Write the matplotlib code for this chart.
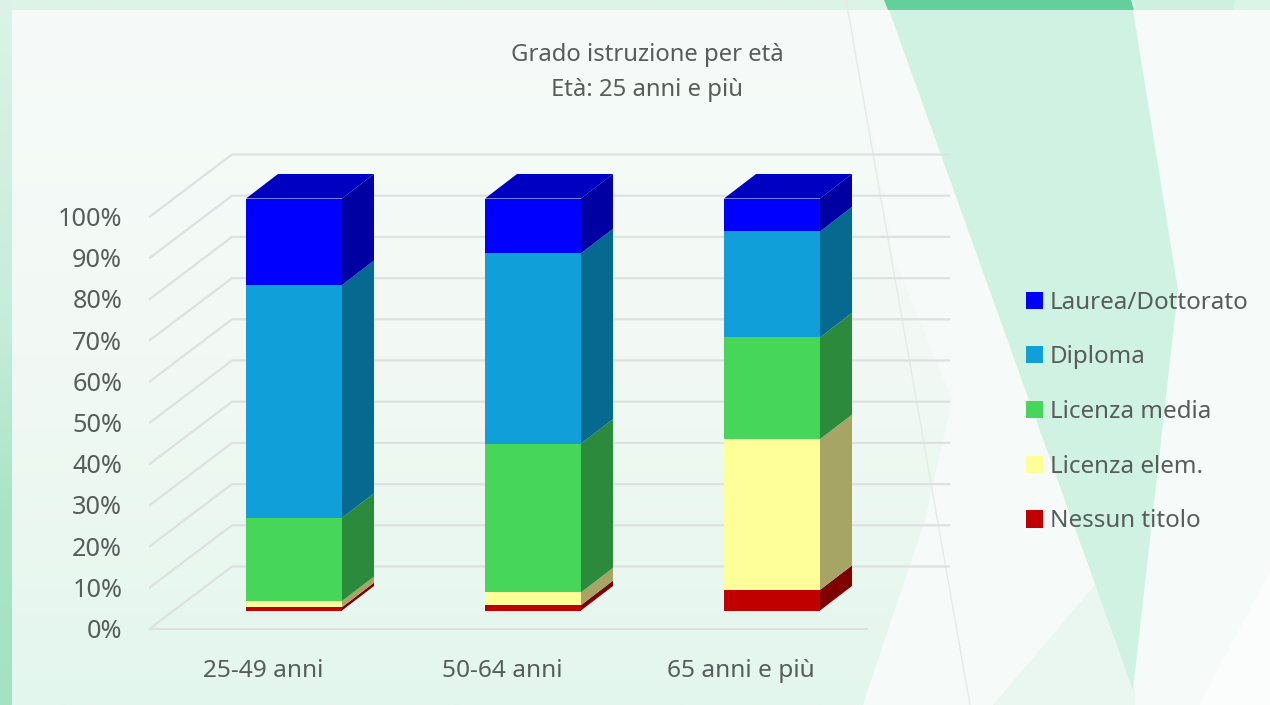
import numpy as np
import matplotlib
matplotlib.use("Agg")
import matplotlib.pyplot as plt
from matplotlib.patches import Patch, Polygon
from matplotlib.colors import LinearSegmentedColormap

categories = ["25-49 anni", "50-64 anni", "65 anni e più"]
nessun = [0.8, 1.3, 5.0]
elem = [1.5, 3.1, 36.6]
media = [20.2, 36.1, 24.7]
diploma = [56.5, 46.2, 25.7]
laurea = [21.0, 13.3, 8.0]
series_names = ["Nessun titolo", "Licenza elem.", "Licenza media", "Diploma", "Laurea/Dottorato"]
front_colors = ["#c00000", "#ffff99", "#46d75a", "#109fd8", "#0000ff"]
side_colors = ["#800000", "#a6a566", "#2c8a3c", "#066a90", "#0000a2"]
top_color = "#0000c2"
ticks = list(range(0, 101, 10))

W, H = 1270, 705
plt.rcParams['font.family'] = ['Noto Sans', 'DejaVu Sans']
fig = plt.figure(figsize=(W / 100, H / 100), dpi=100, facecolor="#dcf3e8")

# Slide background
bg = fig.add_axes([0, 0, 1, 1], zorder=0)
bg.axis("off")
edge_map = LinearSegmentedColormap.from_list(
    "edge", [(0, "#dcf3e8"), (0.45, "#c6eddb"), (0.72, "#aae4c8"), (1, "#a5e2c5")])
bg.imshow(np.linspace(0, 1, 256)[:, None], cmap=edge_map, extent=(0, 12, H, 0), aspect="auto", zorder=0.5)
top_strip = Polygon([(12, 0), (W, 0), (W, 10), (12, 10)], fc="#dcf3e8", ec="none", zorder=0.5)
bg.add_patch(top_strip)
cmap = LinearSegmentedColormap.from_list("panel", ["#f6fbf9", "#f2f9f4", "#e3f6ed"])
bg.imshow(np.linspace(0, 1, 256)[:, None], cmap=cmap, extent=(12, W, H, 10), aspect="auto", zorder=1)
bg.set_xlim(0, W); bg.set_ylim(H, 0)
decor = [
    ([(850, 10), (W, 10), (W, H), (863, H), (925, 520), (952, 400), (895, 260)], "#f6fbf9", 2),
    ([(993, H), (1095, 585), (1135, 690), (1135, H)], "#e9f7f0", 2.3),
    ([(1135, H), (1135, 690), (1178, 290), (1133, 10), (1230, 10), (1205, 300), (1225, 540), (1200, 610)], "#f6fbf9", 2.4),
    ([(1200, H), (1270, 570), (1270, H)], "#fafdfc", 2.4),
    ([(889, 10), (1133, 10), (1178, 290), (1133, 690)], "#d0f2e3", 2.5),
    ([(884, 0), (1131, 0), (1134, 10), (888, 10)], "#62cf9c", 2.6),
    ([(1134, 0), (1235, 0), (1233, 10), (1136, 10)], "#cdf0e1", 2.6),
]
for pts, col, z in decor:
    bg.add_patch(Polygon(pts, fc=col, ec="none", zorder=z))
bg.plot([846, 970], [0, 705], color="#e6ebe9", lw=1.0, zorder=2.7)

# Chart axes: the front plane of the pseudo 3D box
px_left, px_right, px_bottom, px_top = 150, 867, 628.5, 216.5
ax = fig.add_axes([px_left / W, 1 - px_bottom / H, (px_right - px_left) / W, (px_bottom - px_top) / H],
                  zorder=2, facecolor="none")
x = np.arange(len(categories))
ax.set_xlim(-0.4728, 2.5272)
ax.set_ylim(0, 100)
ux = (px_right - px_left) / 3.0
uy = (px_bottom - px_top) / 100.0

# Depth and bar placement, converted from pixels to axis units
wall_dx, wall_dy = 82 / ux, 62 / uy
bar_dx, bar_dy = 32 / ux, 24.5 / uy
bar_shift_x, bar_shift_y = 31 / ux, 18 / uy
bar_w = 96 / ux
grid_col = "#dde1e1"

for t in ticks:
    xs = [-0.4728, -0.4728 + wall_dx, 2.5272 + wall_dx]
    ys = [t, t + wall_dy, t + wall_dy]
    ax.plot(xs, ys, color=grid_col, lw=1.6, clip_on=False, zorder=1, solid_joinstyle="miter")
ax.spines[["top", "left", "right"]].set_visible(False)
ax.spines["bottom"].set_color(grid_col)
ax.spines["bottom"].set_linewidth(1.6)

centers = x + bar_shift_x
bottom = np.full(len(categories), bar_shift_y)
all_series = [nessun, elem, media, diploma, laurea]
handles = []
for vals, name, fc, sc in zip(all_series, series_names, front_colors, side_colors):
    vals = np.array(vals)
    ax.bar(centers, vals, bar_w, bottom=bottom, color=fc, zorder=3, clip_on=False)
    for cx, b, v in zip(centers, bottom, vals):
        xr = cx + bar_w / 2
        ax.fill([xr, xr + bar_dx, xr + bar_dx, xr], [b, b + bar_dy, b + v + bar_dy, b + v],
                color=sc, lw=0, zorder=3, clip_on=False)
    bottom = bottom + vals
    handles.append(Patch(facecolor=fc, edgecolor="none", label=name))
for cx, b in zip(centers, bottom):
    xl, xr = cx - bar_w / 2, cx + bar_w / 2
    ax.fill([xl, xr, xr + bar_dx, xl + bar_dx], [b, b, b + bar_dy, b + bar_dy],
            color=top_color, lw=0, zorder=3, clip_on=False)

txt = "#565d5b"
ax.set_xticks(x, categories)
ax.set_yticks(ticks, [f"{t}%" for t in ticks])
ax.tick_params(axis="y", length=0, labelsize=18.2, labelcolor=txt, pad=20)
ax.tick_params(axis="x", length=0, labelsize=17.6, labelcolor=txt, pad=22)

fig.text(647 / W, 1 - 55 / H, "Grado istruzione per età", ha="center", va="center", fontsize=17.2, color=txt)
fig.text(647 / W, 1 - 90 / H, "Età: 25 anni e più", ha="center", va="center", fontsize=17.2, color=txt)

leg = fig.legend(handles=handles[::-1], loc="center left", bbox_to_anchor=(1020 / W, 1 - 412 / H),
                 frameon=False, fontsize=17.4, labelcolor=txt, handlelength=0.72, handleheight=0.72,
                 handletextpad=0.26, labelspacing=1.27, borderpad=0.25, borderaxespad=0)

fig.savefig("out.png", dpi=100)
